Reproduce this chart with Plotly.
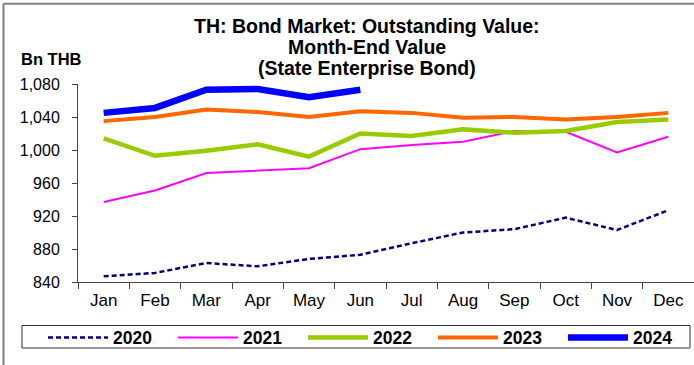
import plotly.graph_objects as go

months = ["Jan", "Feb", "Mar", "Apr", "May", "Jun",
          "Jul", "Aug", "Sep", "Oct", "Nov", "Dec"]

# Month-end outstanding value of state enterprise bonds, Bn THB
y2020 = [847, 851, 863, 859, 868, 873, 887, 900, 904, 918, 903, 927]
y2021 = [937, 951, 972, 975, 978, 1001, 1006, 1010, 1023, 1022, 997, 1016]
y2022 = [1014, 993, 999, 1007, 992, 1020, 1017, 1025, 1021, 1023, 1034, 1037]
y2023 = [1035, 1040, 1049, 1046, 1040, 1047, 1045, 1039, 1040, 1037, 1040, 1045]
y2024 = [1045, 1051, 1073, 1074, 1064, 1073]

y_ticks = [840, 880, 920, 960, 1000, 1040, 1080]

FONT = "Liberation Sans, Arial, sans-serif"

W, H = 694, 365
L, R, T, B = 78, 0, 84, 83
PW, PH = W - L - R, H - T - B


def px_x(px):
    return (px - L) / PW


def px_y(py):
    return (H - B - py) / PH


series = [
    ("2020", y2020, "#000080", 2.5, "5px,3px"),
    ("2021", y2021, "#FF00FF", 2, "solid"),
    ("2022", y2022, "#99CC00", 4.5, "solid"),
    ("2023", y2023, "#FF6600", 4, "solid"),
    ("2024", y2024, "#0000FF", 6.5, "solid"),
]

fig = go.Figure()
for name, vals, color, width, dash in series:
    fig.add_trace(go.Scatter(
        x=months[:len(vals)], y=vals, name=name, mode="lines",
        line=dict(color=color, width=width, dash=dash),
    ))

fig.update_layout(
    width=W, height=H,
    margin=dict(l=L, r=R, t=T, b=B, autoexpand=False),
    paper_bgcolor="white", plot_bgcolor="white",
    font=dict(family=FONT, size=16, color="black"),
    showlegend=True,
    legend=dict(
        orientation="h", x=px_x(43), xanchor="left", y=px_y(319.5), yanchor="top",
        borderwidth=0, bgcolor="rgba(0,0,0,0)",
        font=dict(family=FONT, size=17.5, color="black", weight="bold"),
        itemwidth=60, entrywidth=55, traceorder="normal",
    ),
    xaxis=dict(
        categoryorder="array", categoryarray=months,
        range=[-0.5, 11.5], showgrid=False, zeroline=False,
        showline=True, linecolor="#444444", linewidth=1,
        ticks="outside", ticklen=6, tickcolor="#444444",
        tickson="boundaries", tickfont=dict(size=17), ticklabelstandoff=3,
    ),
    yaxis=dict(
        range=[840, 1080], tickvals=y_ticks,
        ticktext=[f"{v:,}" for v in y_ticks],
        showgrid=False, zeroline=False,
        showline=True, linecolor="#444444", linewidth=1,
        ticks="outside", ticklen=5, tickcolor="#444444",
        tickfont=dict(size=16), ticklabelstandoff=9,
    ),
)

title_lines = [
    ("TH: Bond Market: Outstanding Value:", 25.5),
    ("Month-End Value", 46.8),
    ("(State Enterprise Bond)", 67.8),
]
for text, cy in title_lines:
    fig.add_annotation(
        text=f"<b>{text}</b>", x=px_x(367), y=px_y(cy),
        xref="paper", yref="paper", xanchor="center", yanchor="middle",
        showarrow=False, font=dict(family=FONT, size=19.5, color="black"),
    )

fig.add_annotation(
    text="<b>Bn THB</b>", x=px_x(51.5), y=px_y(58.7),
    xref="paper", yref="paper", xanchor="center", yanchor="middle",
    showarrow=False, font=dict(family=FONT, size=16.5, color="black"),
)

# Legend frame
fig.add_shape(type="rect", xref="paper", yref="paper",
              x0=px_x(22), x1=px_x(690), y0=px_y(325.5), y1=px_y(348),
              line=dict(color="#333333", width=1), layer="below")

# Outer chart frame (top and left edges visible)
fig.add_shape(type="line", xref="paper", yref="paper",
              x0=px_x(3.5), x1=px_x(W + 5), y0=px_y(3.7), y1=px_y(3.7),
              line=dict(color="#808080", width=2))
fig.add_shape(type="line", xref="paper", yref="paper",
              x0=px_x(3.5), x1=px_x(3.5), y0=px_y(3.7), y1=px_y(H + 5),
              line=dict(color="#808080", width=2))

fig.write_html("out.html")
